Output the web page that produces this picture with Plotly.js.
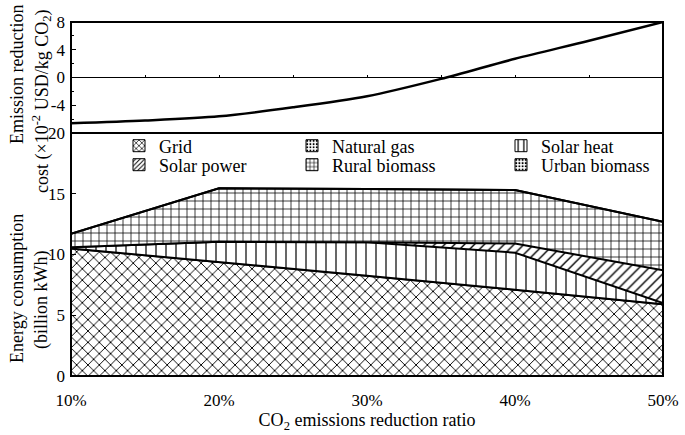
<!DOCTYPE html>
<html>
<head>
<meta charset="utf-8">
<script src="https://cdn.plot.ly/plotly-3.0.1.min.js"></script>
<style>html,body{margin:0;padding:0;background:#fff;}#chart{width:685px;height:435px;}</style>
</head>
<body>
<div id="chart"></div>
<script>
// ---- data ----
const ratio = [10, 20, 30, 40, 50];
const ratioLabels = ['10%', '20%', '30%', '40%', '50%'];
const grid = [10.5, 9.4, 8.25, 7.1, 5.9];
const naturalGas = [0, 0, 0, 0, 0];
const solarHeat = [0.1, 1.65, 2.75, 3.05, 0.1];
const solarPower = [0, 0, 0, 0.75, 2.7];
const ruralBiomass = [1.1, 4.4, 4.4, 4.4, 4.0];
const urbanBiomass = [0, 0, 0, 0, 0];
const sourceNames = ['Grid', 'Natural gas', 'Solar heat', 'Solar power', 'Rural biomass', 'Urban biomass'];

const costRatio = [10, 15, 20, 25, 30, 35, 40, 45, 50];
const cost = [-6.6, -6.2, -5.6, -4.3, -2.7, -0.2, 2.7, 5.3, 8.0];

const energyTicks = [0, 5, 10, 15, 20];
const costTicks = [-4, 0, 4, 8];
const costTickText = ['-4', '0', '4', '8'];
const costMinor = [-6, -2, 2, 6];
const zeroTicks = [15, 20, 25, 30, 35, 40, 45];

// ---- style ----
const FONT = '"Liberation Serif", "Times New Roman", serif';
const L = 71, PW = 592, B = 376, PH = 354;
const px = v => (v - L) / PW;
const py = v => (B - v) / PH;
const split = 0.6864;

const patterns = [
  {shape: 'x', size: 8, solidity: 0.22},
  {shape: '.', size: 6, solidity: 0.2},
  {shape: '|', size: 10, solidity: 0.12},
  {shape: '/', size: 7, solidity: 0.2},
  {shape: '+', size: 8, solidity: 0.18},
  {shape: '.', size: 5, solidity: 0.25}
];
const series = [grid, naturalGas, solarHeat, solarPower, ruralBiomass, urbanBiomass];
const legendPos = [[119, 146], [292, 146], [501, 146], [119, 165], [292, 165], [501, 165]];

const traces = [];
series.forEach((vals, i) => {
  const p = patterns[i];
  traces.push({
    type: 'scatter', mode: 'lines', x: ratio, y: vals, name: sourceNames[i],
    stackgroup: 'e', xaxis: 'x', yaxis: 'y',
    line: {color: 'black', width: 2},
    fillcolor: 'white',
    fillpattern: {shape: p.shape, fgcolor: 'black', bgcolor: 'white', size: p.size, solidity: p.solidity},
    showlegend: false, hoverinfo: 'skip'
  });
});
// legend-only entries (bar icons show the pattern in a small box)
series.forEach((vals, i) => {
  const p = patterns[i];
  traces.push({
    type: 'bar', x: [null], y: [null], name: sourceNames[i], xaxis: 'x', yaxis: 'y',
    marker: {color: 'white', line: {color: 'black', width: 1},
      pattern: {shape: p.shape, fgcolor: 'black', bgcolor: 'white', size: Math.max(4, p.size - 3), solidity: p.solidity + 0.1}},
    legend: i === 0 ? 'legend' : 'legend' + (i + 1), showlegend: true, hoverinfo: 'skip'
  });
});
traces.push({
  type: 'scatter', mode: 'lines', x: costRatio, y: cost,
  xaxis: 'x2', yaxis: 'y2', showlegend: false,
  line: {color: 'black', width: 2.5, shape: 'spline', smoothing: 0.8}
});

function leg(x, y) {
  return {x: px(x), y: py(y), xanchor: 'left', yanchor: 'middle', orientation: 'h',
    bgcolor: 'rgba(0,0,0,0)', borderwidth: 0, itemwidth: 30,
    font: {family: FONT, size: 18, color: 'black'}};
}

const tickFont = {family: FONT, size: 17, color: 'black'};

const layout = {
  width: 685, height: 435,
  margin: {l: L, r: 685 - L - PW, t: B - PH, b: 435 - B},
  paper_bgcolor: 'white', plot_bgcolor: 'white',
  font: {family: FONT, color: 'black'},
  barmode: 'overlay',
  xaxis: {
    domain: [0, 1], range: [10, 50], anchor: 'y',
    tickvals: ratio, ticktext: ratioLabels, ticks: '', showgrid: false, zeroline: false, showline: false,
    tickfont: tickFont, ticklabelstandoff: 12,
    title: {text: 'CO<sub>2</sub> emissions reduction ratio', font: {family: FONT, size: 18, color: 'black'}, standoff: 2}
  },
  yaxis: {
    domain: [0, split], range: [0, 20], anchor: 'x',
    tickvals: energyTicks, ticks: 'inside', ticklen: 5, tickcolor: 'black', ticklabelstandoff: 5,
    showgrid: false, zeroline: false, showline: false, tickfont: tickFont
  },
  xaxis2: {
    domain: [0, 1], range: [10, 50], anchor: 'free', position: split + (1 - split) / 2,
    side: 'top', tickvals: zeroTicks, ticks: 'outside', ticklen: 3, tickcolor: 'black',
    showticklabels: false, showgrid: false, zeroline: false, showline: false
  },
  yaxis2: {
    domain: [split, 1], range: [-8, 8], anchor: 'x2',
    tickvals: costTicks, ticktext: costTickText, ticks: 'inside', ticklen: 5, tickcolor: 'black', ticklabelstandoff: 5,
    minor: {tickvals: costMinor, ticks: 'inside', ticklen: 3, tickcolor: 'black', showgrid: false},
    showgrid: false, zeroline: true, zerolinecolor: 'black', zerolinewidth: 1, showline: false,
    tickfont: tickFont
  },
  shapes: [
    {type: 'rect', xref: 'x domain', yref: 'y domain', x0: 0, x1: 1, y0: 0, y1: 1, line: {color: 'black', width: 2}, layer: 'above'},
    {type: 'rect', xref: 'x2 domain', yref: 'y2 domain', x0: 0, x1: 1, y0: 0, y1: 1, line: {color: 'black', width: 2}, layer: 'above'}
  ],
  annotations: [
    {text: 'Emission reduction', xref: 'paper', yref: 'paper', x: px(17), y: py(75), textangle: -90,
     showarrow: false, xanchor: 'center', yanchor: 'middle', font: {family: FONT, size: 18, color: 'black'}},
    {text: 'cost (×10<sup>-2</sup> USD/kg CO<sub>2</sub>)', xref: 'paper', yref: 'paper', x: px(41), y: py(102), textangle: -90,
     showarrow: false, xanchor: 'center', yanchor: 'middle', font: {family: FONT, size: 18, color: 'black'}},
    {text: 'Energy consumption', xref: 'paper', yref: 'paper', x: px(17), y: py(289), textangle: -90,
     showarrow: false, xanchor: 'center', yanchor: 'middle', font: {family: FONT, size: 18, color: 'black'}},
    {text: '(billion kWh)', xref: 'paper', yref: 'paper', x: px(41), y: py(300), textangle: -90,
     showarrow: false, xanchor: 'center', yanchor: 'middle', font: {family: FONT, size: 18, color: 'black'}}
  ]
};
legendPos.forEach((p, i) => {
  layout[i === 0 ? 'legend' : 'legend' + (i + 1)] = leg(p[0], p[1]);
});

Plotly.newPlot('chart', traces, layout, {displayModeBar: false, staticPlot: true});
</script>
</body>
</html>
